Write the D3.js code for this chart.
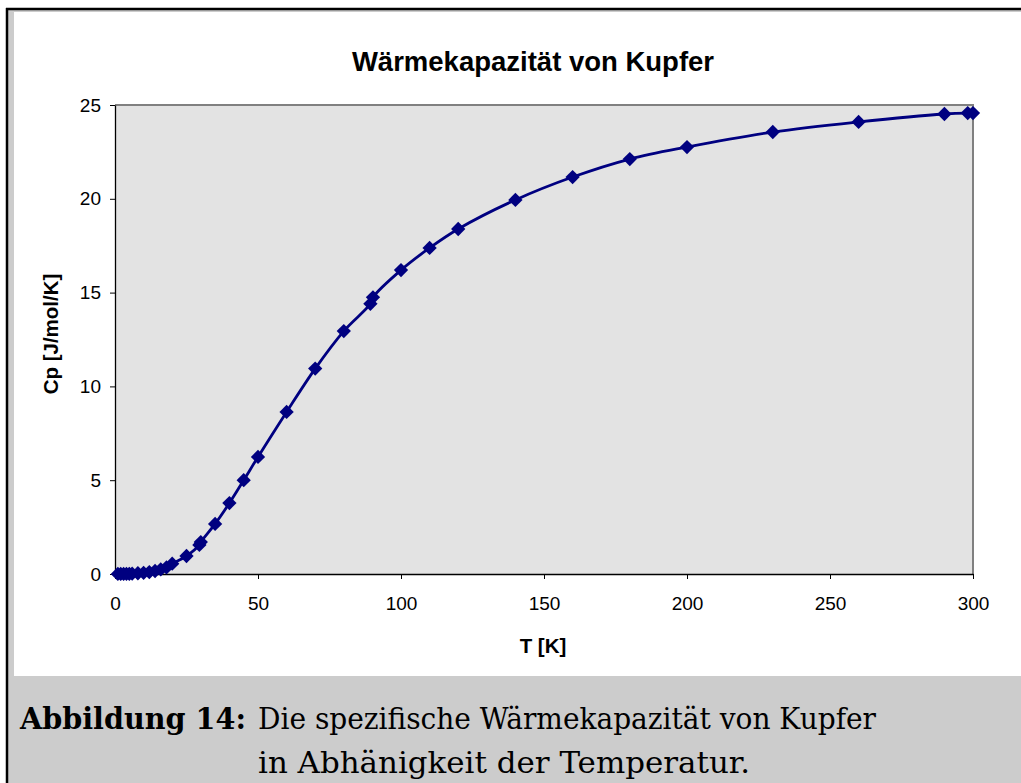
<!DOCTYPE html>
<html>
<head>
<meta charset="utf-8">
<script src="https://cdn.jsdelivr.net/npm/d3@7"></script>
<style>
  html, body { margin: 0; padding: 0; background: #fff; }
  svg { display: block; }
</style>
</head>
<body>
<svg id="chart" width="1021" height="783"></svg>
<script>
// ---- data ----
const title = "Wärmekapazität von Kupfer";
const xLabel = "T [K]";
const yLabel = "Cp [J/mol/K]";
const temperatures = [1, 2, 3, 4, 5, 6, 8, 10, 12, 14, 16, 18, 20, 25, 29.5, 30, 35, 40, 45, 50, 60, 70, 80, 89.3, 90.2, 100, 110, 120, 140, 160, 180, 200, 230, 260, 290, 298.15, 300];
const cpValues     = [0.001, 0.002, 0.004, 0.007, 0.012, 0.018, 0.04, 0.06, 0.1, 0.16, 0.25, 0.35, 0.55, 0.96, 1.55, 1.7, 2.67, 3.78, 5.0, 6.24, 8.64, 10.95, 12.95, 14.4, 14.75, 16.2, 17.38, 18.39, 19.94, 21.16, 22.12, 22.76, 23.56, 24.1, 24.52, 24.57, 24.57];
const xTicks = [0, 50, 100, 150, 200, 250, 300];
const yTicks = [0, 5, 10, 15, 20, 25];
const captionLabel = "Abbildung 14:";
const captionLines = ["Die spezifische Wärmekapazität von Kupfer", "in Abhänigkeit der Temperatur."];

(function () {
const data = temperatures.map((t, i) => ({ t, cp: cpValues[i] }));

const svg = d3.select("#chart");
const W = 1021, H = 783;
const sans = "Liberation Sans, Arial, sans-serif";

// frame & background
svg.append("rect").attr("x", 0).attr("y", 0).attr("width", W).attr("height", H).attr("fill", "#fff");
svg.append("rect").attr("x", 7).attr("y", 9).attr("width", W - 7).attr("height", H - 9).attr("fill", "#cccccc");
svg.append("rect").attr("x", 14).attr("y", 12).attr("width", W - 14).attr("height", 664).attr("fill", "#fff");
svg.append("line").attr("x1", 6).attr("x2", W).attr("y1", 9).attr("y2", 9).attr("stroke", "#000").attr("stroke-width", 2.5);
svg.append("line").attr("x1", 7).attr("x2", 7).attr("y1", 8).attr("y2", H).attr("stroke", "#000").attr("stroke-width", 2.5);

// plot area
const pLeft = 115, pRight = 973, pTop = 105, pBottom = 574;
const x = d3.scaleLinear().domain([0, 300]).range([pLeft, pRight]);
const y = d3.scaleLinear().domain([0, 25]).range([pBottom, pTop]);

svg.append("rect").attr("x", pLeft).attr("y", pTop).attr("width", pRight - pLeft).attr("height", pBottom - pTop)
  .attr("fill", "#e3e3e3");
svg.append("path").attr("d", `M${pLeft},${pTop}H${pRight}V${pBottom}`).attr("fill", "none")
  .attr("stroke", "#808080").attr("stroke-width", 2);

// axes
const xAxis = d3.axisBottom(x).tickValues(xTicks).tickSizeInner(5).tickSizeOuter(0).tickPadding(18);
const yAxis = d3.axisLeft(y).tickValues(yTicks).tickSizeInner(5).tickSizeOuter(0).tickPadding(9);

const gx = svg.append("g").attr("transform", `translate(0,${pBottom})`).call(xAxis);
const gy = svg.append("g").attr("transform", `translate(${pLeft},0)`).call(yAxis);
[gx, gy].forEach(g => {
  g.selectAll("path.domain").attr("stroke", "#000").attr("stroke-width", 1.3);
  g.selectAll(".tick line").attr("stroke", "#000").attr("stroke-width", 1);
  g.selectAll(".tick text").attr("font-family", sans)
    .attr("font-size", 19).attr("fill", "#000");
});

// line
const line = d3.line().x(d => x(d.t)).y(d => y(d.cp)).curve(d3.curveCatmullRom.alpha(0.5));
svg.append("path").datum(data).attr("d", line).attr("fill", "none")
  .attr("stroke", "#000080").attr("stroke-width", 2.8);

// markers
const diamond = d3.symbol().type(d3.symbolDiamond2).size(130);
svg.append("g").selectAll("path").data(data).join("path")
  .attr("d", diamond)
  .attr("transform", d => `translate(${x(d.t)},${y(d.cp)})`)
  .attr("fill", "#000080");

// titles
svg.append("text").attr("x", 533).attr("y", 71).attr("text-anchor", "middle")
  .attr("font-family", sans).attr("font-weight", "bold").attr("font-size", 27.5)
  .text(title);
svg.append("text").attr("x", 543).attr("y", 653).attr("text-anchor", "middle")
  .attr("font-family", sans).attr("font-weight", "bold").attr("font-size", 20.5)
  .text(xLabel);
svg.append("text").attr("transform", `translate(58,334) rotate(-90)`).attr("text-anchor", "middle")
  .attr("font-family", sans).attr("font-weight", "bold").attr("font-size", 20.5)
  .text(yLabel);

// caption
const capFont = "DejaVu Serif, serif";
svg.append("text").attr("x", 20).attr("y", 729)
  .attr("font-family", capFont).attr("font-weight", "bold").attr("font-size", 30)
  .attr("textLength", 226).attr("lengthAdjust", "spacingAndGlyphs")
  .text(captionLabel);
const capWidths = [618, 492];
captionLines.forEach((s, i) => {
  svg.append("text").attr("x", 258).attr("y", 729 + i * 44)
    .attr("font-family", capFont).attr("font-size", 30)
    .attr("textLength", capWidths[i]).attr("lengthAdjust", "spacingAndGlyphs")
    .text(s);
});
})();
</script>
</body>
</html>
